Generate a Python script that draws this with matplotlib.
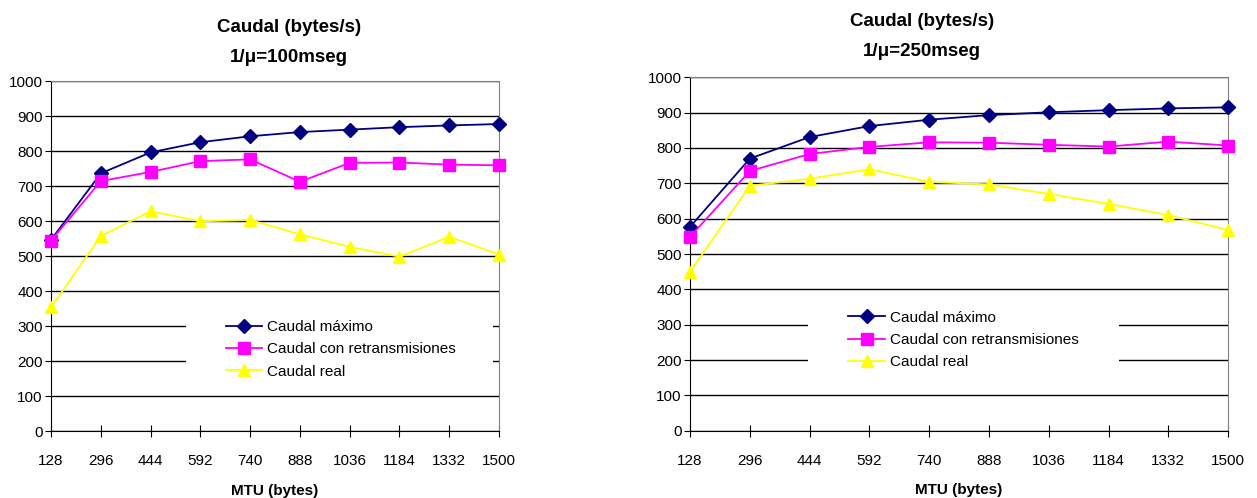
import matplotlib
matplotlib.use("Agg")
import matplotlib.pyplot as plt
from matplotlib.patches import Rectangle

plt.rcParams['font.family'] = ['Liberation Sans', 'DejaVu Sans']

mtu = ["128", "296", "444", "592", "740", "888", "1036", "1184", "1332", "1500"]
series_names = ["Caudal máximo", "Caudal con retransmisiones", "Caudal real"]

# 1/mu = 100 mseg
max_100 = [547, 737, 797, 826, 843, 855, 862, 869, 874, 878]
retx_100 = [545, 715, 741, 772, 777, 713, 767, 768, 762, 760]
real_100 = [354, 558, 629, 600, 604, 563, 527, 499, 556, 505]

# 1/mu = 250 mseg
max_250 = [577, 770, 831, 862, 880, 893, 901, 907, 912, 915]
retx_250 = [549, 735, 783, 803, 816, 815, 809, 804, 818, 807]
real_250 = [450, 693, 713, 740, 704, 697, 670, 642, 610, 568]

styles = [
    dict(color="#000080", marker="D", markersize=7),
    dict(color="#FF00FF", marker="s", markersize=8),
    dict(color="#FFFF00", marker="^", markersize=9),
]


def draw_chart(fig, rect, data, legend_box, legend_anchor):
    ax = fig.add_axes(rect)
    x = range(len(mtu))
    for vals, name, st in zip(data, series_names, styles):
        ax.plot(x, vals, label=name, lw=1.3, color=st["color"], marker=st["marker"],
                markersize=st["markersize"], markerfacecolor=st["color"],
                markeredgecolor=st["color"], zorder=3, clip_on=False)
    ax.set_xlim(0, len(mtu) - 1)
    ax.set_ylim(0, 1000)
    ax.set_yticks(range(0, 1001, 100))
    ax.set_xticks(list(x))
    ax.set_xticklabels(mtu)
    ax.yaxis.grid(True, color="black", lw=1)
    ax.set_axisbelow(True)
    for s in ["top", "right"]:
        ax.spines[s].set_color("#808080")
    for s in ["left", "bottom"]:
        ax.spines[s].set_color("black")
    ax.tick_params(axis="x", direction="inout", length=9, labelsize=11, pad=12)
    ax.tick_params(axis="y", direction="out", length=4, labelsize=11, pad=2)
    ax.set_xlabel("MTU (bytes)", fontsize=11, fontweight="bold", labelpad=11)

    # white legend background hiding the gridlines
    ax.add_patch(Rectangle((legend_box[0], legend_box[1]), legend_box[2], legend_box[3],
                           transform=ax.transAxes, facecolor="white", edgecolor="none",
                           zorder=1))
    ax.legend(loc="upper left", bbox_to_anchor=legend_anchor, frameon=False,
              fontsize=11, handlelength=2.4, handletextpad=0.3, labelspacing=0.55,
              borderpad=0, borderaxespad=0)
    return ax


fig = plt.figure(figsize=(12.57, 4.98), dpi=100)

draw_chart(fig, [0.0406, 0.1339, 0.3564, 0.7028],
           [max_100, retx_100, real_100],
           (0.301, 0.13, 0.686, 0.21), (0.39, 0.318))
draw_chart(fig, [0.549, 0.135, 0.428, 0.7098],
           [max_250, retx_250, real_250],
           (0.219, 0.158, 0.578, 0.21), (0.294, 0.34))

fig.text(289 / 1257, 1 - 27 / 498, "Caudal (bytes/s)", ha="center", va="center",
         fontsize=13.5, fontweight="bold")
fig.text(289 / 1257, 1 - 57 / 498, "1/μ=100mseg", ha="center", va="center",
         fontsize=13.5, fontweight="bold")
fig.text(922 / 1257, 1 - 22 / 498, "Caudal (bytes/s)", ha="center", va="center",
         fontsize=13.5, fontweight="bold")
fig.text(922 / 1257, 1 - 52 / 498, "1/μ=250mseg", ha="center", va="center",
         fontsize=13.5, fontweight="bold")

fig.savefig("out.png", dpi=100)
